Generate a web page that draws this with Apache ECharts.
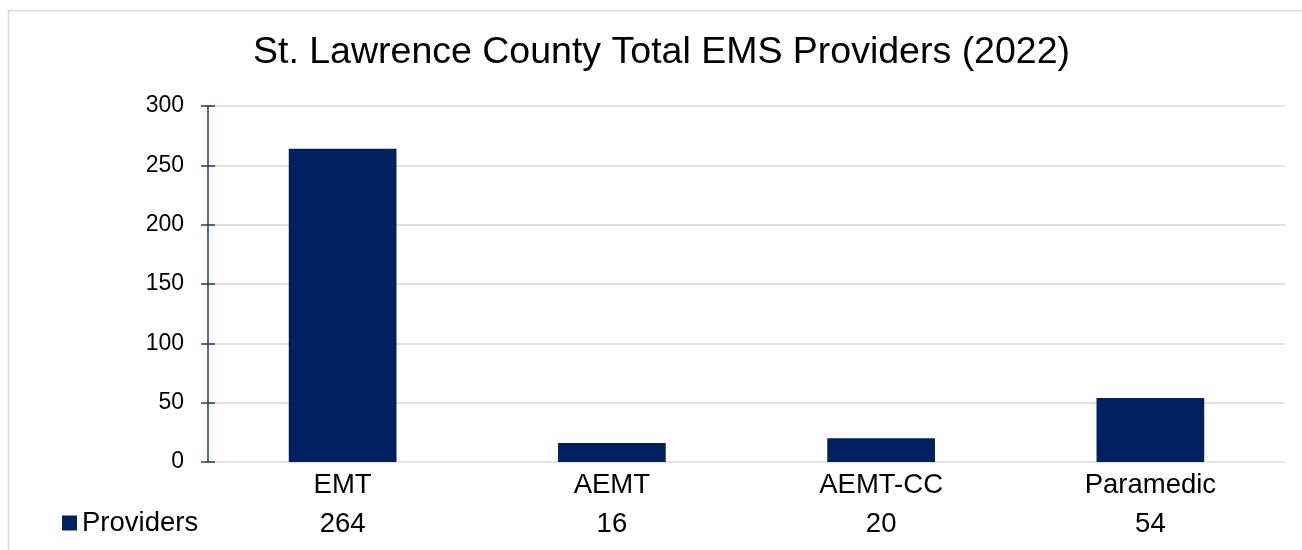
<!DOCTYPE html>
<html><head><meta charset="utf-8">
<script src="https://cdn.jsdelivr.net/npm/echarts@6/dist/echarts.min.js"></script>
<style>html,body{margin:0;padding:0;background:#fff}#c{width:1302px;height:550px}</style>
</head><body><div id="c"></div>
<script>
const categories = ['EMT', 'AEMT', 'AEMT-CC', 'Paramedic'];
const providers = [264, 16, 20, 54];
const seriesName = 'Providers';
const titleText = 'St. Lawrence County Total EMS Providers (2022)';
const navy = '#002060';
const font = '"Liberation Sans", Arial, sans-serif';
const chart = echarts.init(document.getElementById('c'));
chart.setOption({
  animation: false,
  textStyle: { fontFamily: font },
  title: { text: titleText, left: 253, top: 34, padding: 0, textStyle: { fontFamily: font, fontSize: 37.5, fontWeight: 'normal', color: '#000' } },
  graphic: [{ type: 'rect', shape: { x: 8.5, y: 10.5, width: 1300, height: 560 }, style: { fill: 'none', stroke: '#d9d9d9', lineWidth: 1.5 }, silent: true, z: -1 }],
  legend: { show: true, left: 62, top: 509, padding: 0, icon: 'rect', itemWidth: 15, itemHeight: 15, textStyle: { fontFamily: font, fontSize: 27.5, color: '#000' }, data: [seriesName] },
  grid: { left: 208, right: 17, top: 106, bottom: 88, containLabel: false },
  xAxis: [
    { type: 'category', data: categories, axisLine: { show: true, lineStyle: { color: '#e6e6e6', width: 1 } }, axisTick: { show: false }, axisLabel: { fontFamily: font, fontSize: 27.5, color: '#000', margin: 9 } },
    { type: 'category', position: 'bottom', offset: 39, data: providers.map(String), axisLine: { show: false }, axisTick: { show: false }, axisLabel: { fontFamily: font, fontSize: 27.5, color: '#000', margin: 9 } }
  ],
  yAxis: [
    { type: 'value', min: 0, max: 300, interval: 50, axisLine: { show: true, lineStyle: { color: '#1f3a7a', width: 1.5 } }, axisTick: { show: true, length: 7, lineStyle: { color: '#1f3a7a', width: 1.5 } }, axisLabel: { fontFamily: font, fontSize: 23, color: '#000', margin: 24 }, splitLine: { show: true, lineStyle: { color: '#d9d9d9', width: 1.5 } } },
    { type: 'value', position: 'left', offset: 0, min: 0, max: 300, interval: 50, axisLine: { show: false }, axisTick: { show: true, inside: true, length: 7, lineStyle: { color: '#1f3a7a', width: 1.5 } }, axisLabel: { show: false }, splitLine: { show: false } }
  ],
  series: [{ name: seriesName, type: 'bar', data: providers, barWidth: '40%', itemStyle: { color: navy }, xAxisIndex: 0, yAxisIndex: 0 }]
});
</script></body></html>
